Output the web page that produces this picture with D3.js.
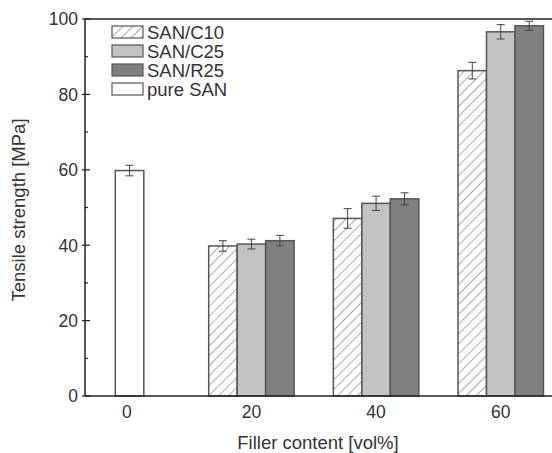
<!DOCTYPE html>
<html>
<head>
<meta charset="utf-8">
<script src="https://cdn.jsdelivr.net/npm/d3@7"></script>
<style>
  html, body { margin: 0; padding: 0; background: #fff; }
  svg { display: block; font-family: "Liberation Sans", Arial, sans-serif; }
</style>
</head>
<body>
<script>
// data
const fillers = [20, 40, 60];
const series = ["SAN/C10", "SAN/C25", "SAN/R25"];
const c10 = [39.8, 47.1, 86.3];
const c10Err = [1.4, 2.6, 2.2];
const c25 = [40.3, 51.1, 96.6];
const c25Err = [1.3, 1.9, 1.9];
const r25 = [41.2, 52.3, 98.2];
const r25Err = [1.4, 1.6, 1.2];
const pureSan = 59.8;
const pureSanErr = 1.4;
const xTicks = [0, 20, 40, 60];
const yTicks = [0, 20, 40, 60, 80, 100];

const width = 552, height = 453;
const margin = { left: 85, top: 19, bottom: 57 };

const svg = d3.select("body").append("svg")
  .attr("width", width)
  .attr("height", height);

const defs = svg.append("defs");
const hatch = defs.append("pattern")
  .attr("id", "hatch")
  .attr("patternUnits", "userSpaceOnUse")
  .attr("width", 7).attr("height", 7)
  .attr("patternTransform", "rotate(45)");
hatch.append("rect").attr("width", 7).attr("height", 7).attr("fill", "#fff");
hatch.append("line")
  .attr("x1", 0).attr("y1", 0).attr("x2", 0).attr("y2", 7)
  .attr("stroke", "#666").attr("stroke-width", 1.1);

const fills = ["url(#hatch)", "#c2c2c2", "#808080"];

const x = d3.scaleLinear().domain([-6.7, 70]).range([margin.left, margin.left + 76.7 * 6.233]);
const y = d3.scaleLinear().domain([0, 100]).range([height - margin.bottom, margin.top]);

const barW = 4.57; // in x units
const rows = fillers.map((f, i) => [
  { f, k: 0, v: c10[i], e: c10Err[i] },
  { f, k: 1, v: c25[i], e: c25Err[i] },
  { f, k: 2, v: r25[i], e: r25Err[i] }
]).flat();

const plot = svg.append("g");

// pure SAN bar
const sanShift = 0.45;
plot.append("rect")
  .attr("x", x(sanShift - barW / 2))
  .attr("y", y(pureSan))
  .attr("width", x(barW) - x(0))
  .attr("height", y(0) - y(pureSan))
  .attr("fill", "#fff")
  .attr("stroke", "#555").attr("stroke-width", 1.5);

plot.selectAll("rect.bar")
  .data(rows)
  .join("rect")
  .attr("class", "bar")
  .attr("x", d => x(d.f + (d.k - 1.5) * barW))
  .attr("y", d => y(d.v))
  .attr("width", x(barW) - x(0))
  .attr("height", d => y(0) - y(d.v))
  .attr("fill", d => fills[d.k])
  .attr("stroke", "#555").attr("stroke-width", 1.5);

// error bars
const errs = rows.map(d => ({ cx: d.f + (d.k - 1) * barW, v: d.v, e: d.e }))
  .concat([{ cx: sanShift, v: pureSan, e: pureSanErr }]);
const eg = plot.append("g").attr("stroke", "#444").attr("stroke-width", 1);
errs.forEach(d => {
  const cx = x(d.cx);
  eg.append("line").attr("x1", cx).attr("x2", cx).attr("y1", y(d.v - d.e)).attr("y2", y(d.v + d.e));
  eg.append("line").attr("x1", cx - 4).attr("x2", cx + 4).attr("y1", y(d.v - d.e)).attr("y2", y(d.v - d.e));
  eg.append("line").attr("x1", cx - 4).attr("x2", cx + 4).attr("y1", y(d.v + d.e)).attr("y2", y(d.v + d.e));
});

// frame
const frame = svg.append("g").attr("stroke", "#222").attr("stroke-width", 1.5).attr("fill", "none");
frame.append("line").attr("x1", x(-6.7)).attr("x2", width + 5).attr("y1", y(0)).attr("y2", y(0));
frame.append("line").attr("x1", x(-6.7)).attr("x2", width + 5).attr("y1", y(100)).attr("y2", y(100));
frame.append("line").attr("x1", x(-6.7)).attr("x2", x(-6.7)).attr("y1", y(0)).attr("y2", y(100));

// y axis ticks
const yMinor = d3.range(10, 100, 20);
const tk = svg.append("g").attr("stroke", "#222").attr("stroke-width", 1.2);
yTicks.forEach(t => {
  tk.append("line").attr("x1", x(-6.7) - 3).attr("x2", x(-6.7) + 5).attr("y1", y(t)).attr("y2", y(t));
});
yMinor.forEach(t => {
  tk.append("line").attr("x1", x(-6.7)).attr("x2", x(-6.7) + 3).attr("y1", y(t)).attr("y2", y(t));
});

svg.append("g").selectAll("text")
  .data(yTicks)
  .join("text")
  .attr("x", x(-6.7) - 7)
  .attr("y", d => y(d))
  .attr("dy", "0.36em")
  .attr("text-anchor", "end")
  .attr("font-size", 17.5)
  .attr("fill", "#333")
  .text(d => d);

svg.append("g").selectAll("text")
  .data(xTicks)
  .join("text")
  .attr("x", d => x(d))
  .attr("y", 418)
  .attr("text-anchor", "middle")
  .attr("font-size", 17.5)
  .attr("fill", "#333")
  .text(d => d);

svg.append("text")
  .attr("x", 318).attr("y", 449)
  .attr("text-anchor", "middle")
  .attr("font-size", 18.5)
  .attr("fill", "#333")
  .text("Filler content [vol%]");

svg.append("text")
  .attr("transform", "translate(25,210) rotate(-90)")
  .attr("text-anchor", "middle")
  .attr("font-size", 18.5)
  .attr("fill", "#333")
  .text("Tensile strength [MPa]");

// legend
const legendItems = series.map((s, i) => ({ name: s, fill: fills[i] }))
  .concat([{ name: "pure SAN", fill: "#fff" }]);
const lg = svg.append("g");
legendItems.forEach((d, i) => {
  const cy = 32 + i * 19;
  lg.append("rect")
    .attr("x", 112).attr("y", cy - 6)
    .attr("width", 31).attr("height", 12)
    .attr("fill", d.fill)
    .attr("stroke", "#555").attr("stroke-width", 1.2);
  lg.append("text")
    .attr("x", 147).attr("y", cy)
    .attr("dy", "0.36em")
    .attr("font-size", 18.5)
    .attr("fill", "#333")
    .text(d.name);
});
</script>
</body>
</html>
